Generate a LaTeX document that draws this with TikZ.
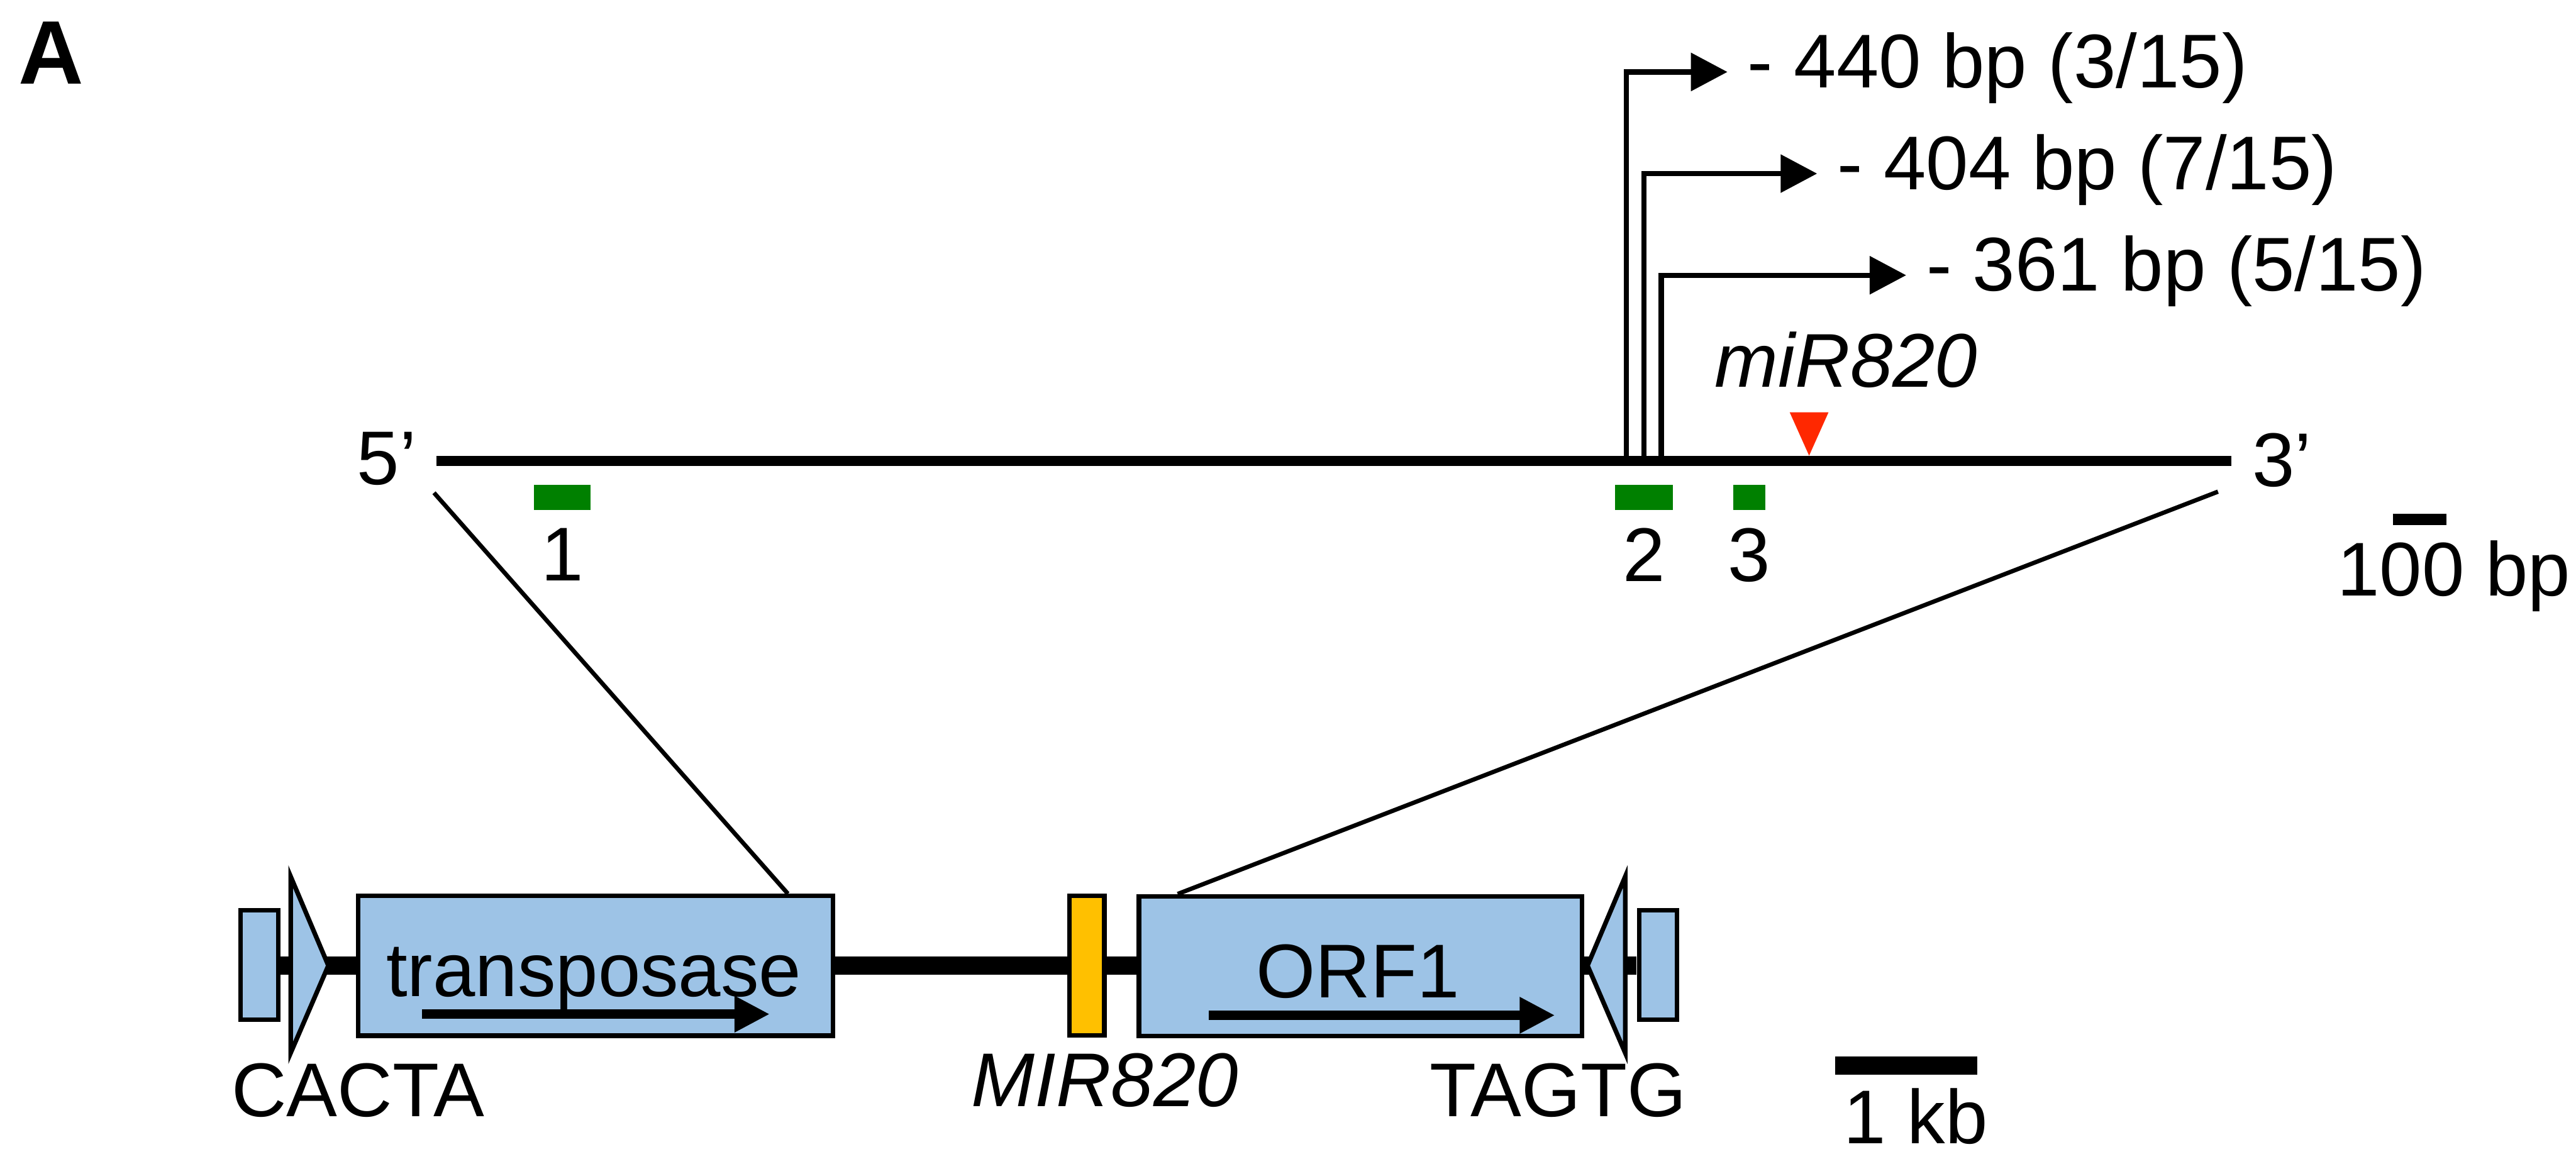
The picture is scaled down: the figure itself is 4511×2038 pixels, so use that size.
\documentclass[tikz,border=0pt]{standalone}
\usepackage{fontspec}
\setmainfont{Liberation Sans}
\usepackage{xcolor}
\usepackage{tikz}
\usetikzlibrary{positioning,calc,arrows.meta}

\definecolor{geneblue}{RGB}{157,195,230}
\definecolor{mirgold}{RGB}{255,192,0}
\definecolor{probegreen}{RGB}{0,128,0}
\definecolor{mirred}{RGB}{255,40,0}

\begin{document}
\begin{tikzpicture}[
    x=0.005cm, y=-0.005cm,
    font=\fontsize{19pt}{23pt}\selectfont,
    node distance=0.17cm,
    txt/.style={inner sep=0pt},
    genebox/.style={
        rectangle,
        draw,
        fill=geneblue,
        line width=1.14pt,
        minimum width=#1,
        minimum height=1.225cm,
        inner sep=0pt
    },
    endbox/.style={genebox=0.33cm, minimum height=0.96cm},
    mirbox/.style={genebox=0.305cm, fill=mirgold},
    tir/.style={fill=geneblue, draw, line width=1.14pt, line join=miter},
    probe/.style={rectangle, fill=probegreen, minimum height=0.22cm, inner sep=0pt},
    backbone/.style={line width=4.55pt},
    dnaline/.style={line width=2.56pt},
    zoomline/.style={line width=1.07pt},
    tssarrow/.style={-{Triangle[length=9.1pt,width=9.3pt]}, line width=1.28pt},
    genearrow/.style={-{Triangle[length=8.8pt,width=8.5pt]}, line width=2.28pt},
    scalebar/.style={line width=#1}
]
\useasboundingbox (0,0) rectangle (4511,2038);

\node[txt, anchor=base west, font=\fontsize{22.5pt}{27pt}\selectfont\bfseries] (panel) at (31,147) {A};

\coordinate (l5) at (764,807);
\coordinate (l3) at (3907,807);
\draw[dnaline] (l5) -- (l3);
\node[txt, anchor=base west] (end5) at (624,849) {5’};
\node[txt, anchor=base west] (end3) at (3943,852) {3’};

\node[probe, minimum width=0.495cm] (pr1) at (984.5,871) {};
\node[probe, minimum width=0.51cm] (pr2) at (2879,871) {};
\node[probe, minimum width=0.28cm] (pr3) at (3063,871) {};
\node[txt, below=0.145cm of pr1] (pr1lab) {1};
\node[txt, below=0.145cm of pr2] (pr2lab) {2};
\node[txt, below=0.145cm of pr3] (pr3lab) {3};

\coordinate (s1) at (2848,807);
\coordinate (s2) at (2879,807);
\coordinate (s3) at (2909,807);
\coordinate (tip1) at (3025,126);
\coordinate (tip2) at (3182,304);
\coordinate (tip3) at (3338,482);
\draw[tssarrow] (s1) |- (tip1);
\draw[tssarrow] (s2) |- (tip2);
\draw[tssarrow] (s3) |- (tip3);
\node[txt, right=of tip1, yshift=0.035cm] (tss1) {- 440 bp (3/15)};
\node[txt, right=of tip2, yshift=0.035cm] (tss2) {- 404 bp (7/15)};
\node[txt, right=of tip3, yshift=0.035cm] (tss3) {- 361 bp (5/15)};

\node[txt, anchor=base] (mirlab) at (3233,678) {\itshape miR820};
\fill[mirred] (3134,722) -- (3202,722) -- (3168,798) -- cycle;

\coordinate (bb1) at (491,1691);
\coordinate (bb2) at (2866,1691);
\draw[backbone] (bb1) -- (bb2);

\node[endbox] (lend) at (454.5,1690) {};
\node[endbox] (rend) at (2903.5,1690) {};
\filldraw[tir] (509,1535) -- (575,1691) -- (509,1844) -- cycle;
\filldraw[tir] (2846,1535) -- (2780,1691) -- (2846,1844) -- cycle;
\node[genebox=4.16cm] (tpase) at (1043,1691.5) {};
\node[mirbox] (mirgene) at (1903.5,1691) {};
\node[genebox=3.885cm] (orf) at (2382.5,1692) {};

\node[txt, anchor=base] (tpasetxt) at (1040,1745) {transposase};
\node[txt, anchor=base] (orftxt) at (2378,1747) {ORF1};
\coordinate (ta1) at (739,1776);
\coordinate (ta2) at (1348,1776);
\coordinate (oa1) at (2117,1778);
\coordinate (oa2) at (2723,1778);
\draw[genearrow] (ta1) -- (ta2);
\draw[genearrow] (oa1) -- (oa2);

\node[txt, anchor=base] (cacta) at (627,1955) {CACTA};
\node[txt, anchor=base] (mirname) at (1935,1938) {\itshape MIR820};
\node[txt, anchor=base] (tagtg) at (2729,1955) {TAGTG};

\coordinate (zl) at (760,863);
\coordinate (zr) at (3884,861);
\draw[zoomline] (zl) -- ([xshift=3.785cm]tpase.north west);
\draw[zoomline] (zr) -- ([xshift=0.36cm]orf.north west);

\coordinate (b100a) at (4190,910);
\coordinate (b100b) at (4284,910);
\draw[scalebar=2.85pt] (b100a) -- (b100b);
\node[txt, anchor=base] (sb100) at (4297,1043) {100 bp};
\coordinate (b1ka) at (3214,1866);
\coordinate (b1kb) at (3462,1866);
\draw[scalebar=4.55pt] (b1ka) -- (b1kb);
\node[txt, anchor=base] (sb1k) at (3355,2003) {1 kb};

\end{tikzpicture}
\end{document}
